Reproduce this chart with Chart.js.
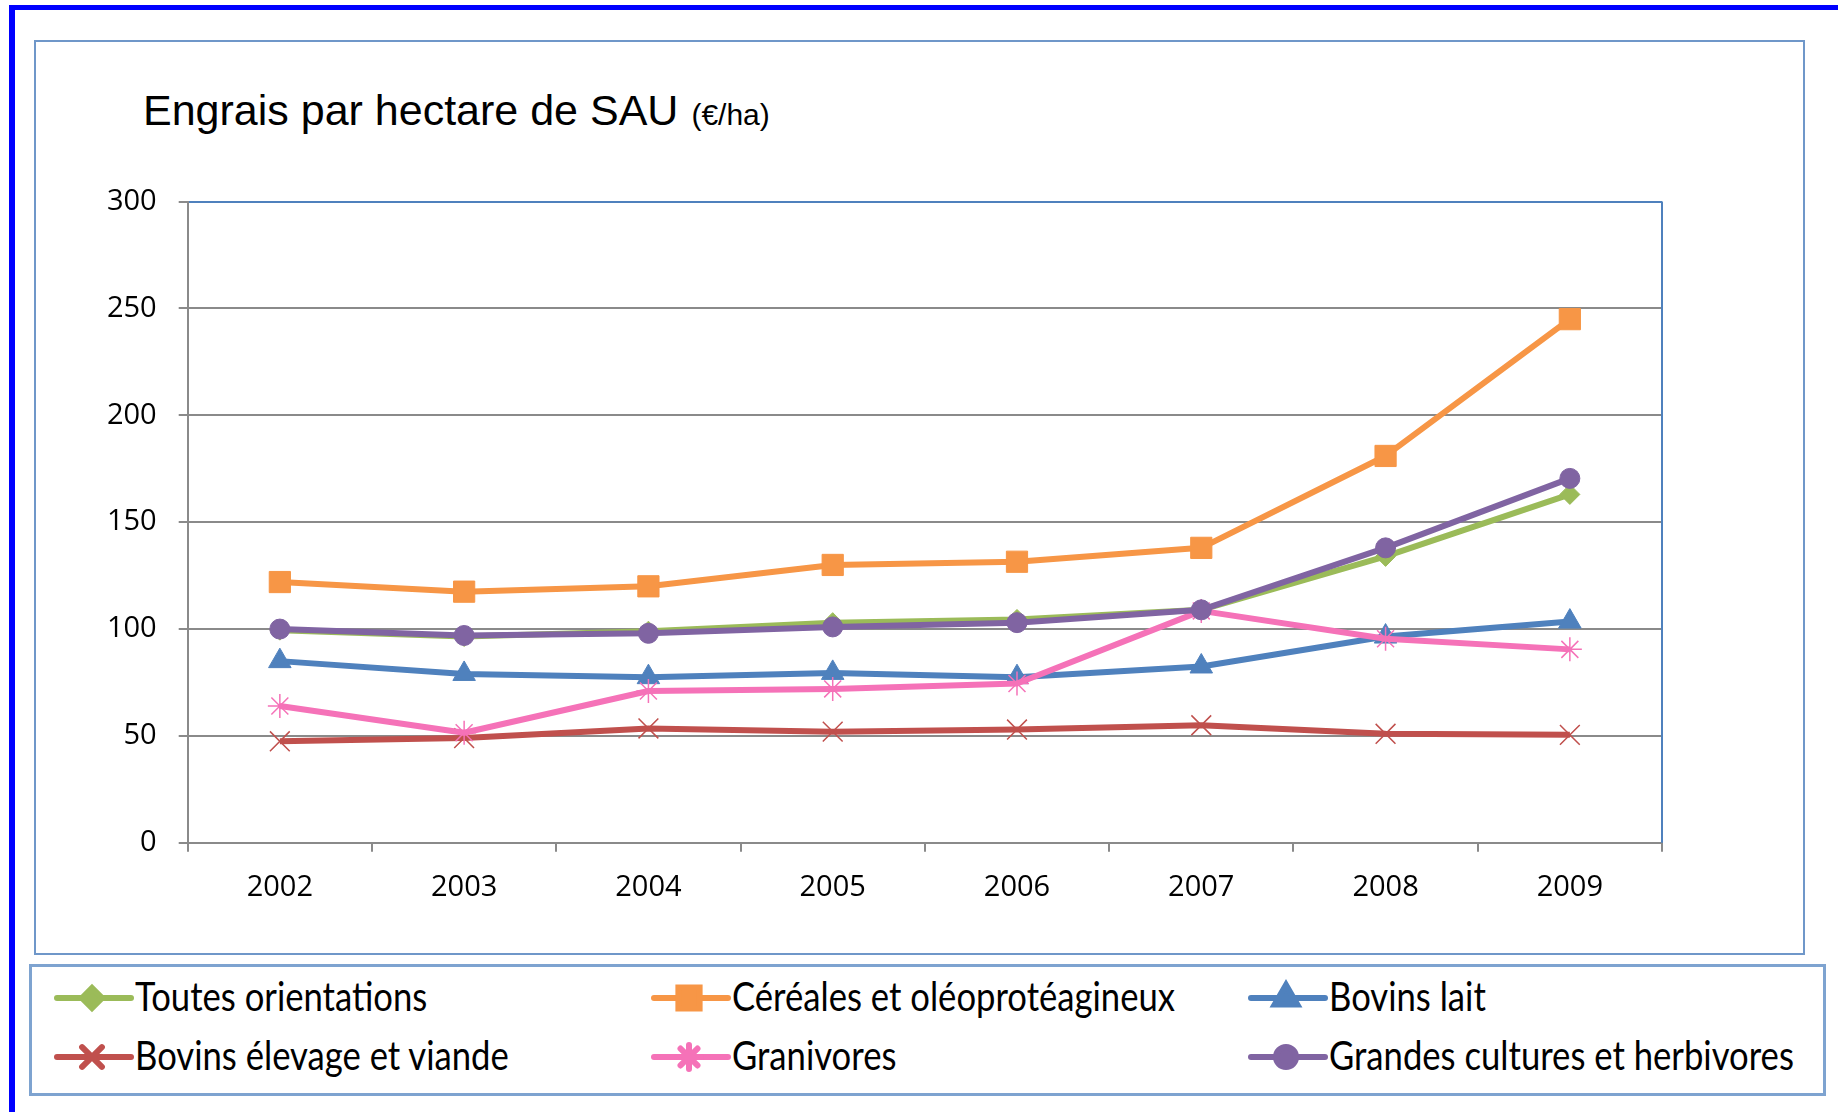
<!DOCTYPE html>
<html>
<head>
<meta charset="utf-8">
<script src="https://cdn.jsdelivr.net/npm/chart.js@4.4.1/dist/chart.umd.min.js"></script>
<style>
  body {
    margin: 0;
    background: #fff;
    width: 1838px;
    height: 1112px;
    overflow: hidden;
    position: relative;
    font-family: "Liberation Sans", Arial, sans-serif;
  }
  .frame {
    position: absolute;
    left: 9px; top: 5px;
    width: 1900px; height: 1200px;
    border-left: 6px solid #0000ff;
    border-top: 5px solid #0000ff;
  }
  .chart-box {
    position: absolute;
    left: 34px; top: 40px;
    width: 1767px; height: 911px;
    border: 2px solid #6f97c9;
  }
  .chart-wrap {
    position: absolute;
    left: 35px; top: 41px;
    width: 1768px; height: 912px;
  }
  .title {
    position: absolute;
    left: 143px; top: 89px;
    font-size: 43px;
    line-height: 1;
    color: #000;
    white-space: nowrap;
  }
  .title small {
    font-size: 30px;
    margin-left: 13px;
  }
  .legend-box {
    position: absolute;
    left: 29px; top: 964px;
    width: 1791px; height: 126px;
    border: 3px solid #7ea3d0;
  }
  .legend-item canvas {
    position: absolute;
  }
  .legend-item span {
    position: absolute;
    font-family: Lato, "Liberation Sans", sans-serif;
    font-size: 40px;
    line-height: 1;
    color: #000;
    white-space: nowrap;
    transform-origin: 0 0;
  }
</style>
</head>
<body>
<div class="frame"></div>
<div class="chart-box"></div>
<div class="title">Engrais par hectare de SAU<small>(€/ha)</small></div>
<div class="chart-wrap"><canvas id="chart" width="1768" height="912"></canvas></div>
<div class="legend-box"></div>
<div id="legend"></div>

<script>
'use strict';

const years = ['2002', '2003', '2004', '2005', '2006', '2007', '2008', '2009'];

const toutesOrientations = [99.5, 96.5, 99, 103, 104.5, 109, 134, 163];
const cerealesOleo = [122, 117.5, 120, 130, 131.5, 138, 181, 245];
const bovinsLait = [85, 79, 77.5, 79.5, 77.5, 82.5, 96.5, 103.5];
const bovinsViande = [47.5, 49, 53.5, 52, 53, 55, 51, 50.5];
const granivores = [64, 51.5, 71, 72, 74.5, 108.5, 95.5, 90.5];
const grandesCultures = [100, 97, 98, 101, 103, 109, 138, 170.5];

const seriesNames = [
  'Toutes orientations',
  'Céréales et oléoprotéagineux',
  'Bovins lait',
  'Bovins élevage et viande',
  'Granivores',
  'Grandes cultures et herbivores'
];
const seriesValues = [toutesOrientations, cerealesOleo, bovinsLait, bovinsViande, granivores, grandesCultures];

// excel-ish look for each series
const seriesStyles = [
  {color: '#9bbb59', pointStyle: 'rectRot', radius: 10, borderWidth: 1},
  {color: '#f79646', pointStyle: 'rect', radius: 15, borderWidth: 1},
  {color: '#4f81bd', pointStyle: 'triangle', radius: 13, borderWidth: 1},
  {color: '#c0504d', pointStyle: 'crossRot', radius: 14, borderWidth: 1.5},
  {color: '#f572b8', pointStyle: 'star', radius: 12, borderWidth: 1.5},
  {color: '#8064a2', pointStyle: 'circle', radius: 10, borderWidth: 1}
];

const gridGray = '#8a8a8a';
const plotBlue = '#4f81bd';

const datasets = seriesNames.map((name, i) => {
  const s = seriesStyles[i];
  return {
    label: name,
    data: seriesValues[i],
    borderColor: s.color,
    backgroundColor: s.color,
    borderWidth: 6,
    tension: 0,
    borderJoinStyle: 'round',
    pointStyle: s.pointStyle,
    pointRadius: s.radius,
    pointBorderWidth: s.borderWidth,
    pointBackgroundColor: s.color,
    pointBorderColor: s.color,
    order: seriesNames.length - i   // later series drawn on top, like excel
  };
});

// blue right edge of the plot area
const plotBorder = {
  id: 'plotBorder',
  beforeDatasetsDraw(chart) {
    const a = chart.chartArea;
    const ctx = chart.ctx;
    ctx.save();
    ctx.strokeStyle = plotBlue;
    ctx.lineWidth = 2;
    ctx.beginPath();
    ctx.moveTo(a.right, a.top);
    ctx.lineTo(a.right, a.bottom);
    ctx.stroke();
    ctx.restore();
  }
};

const ctx = document.getElementById('chart').getContext('2d');
const chart = new Chart(ctx, {
  type: 'line',
  data: {labels: years, datasets: datasets},
  options: {
    responsive: false,
    animation: false,
    events: [],
    layout: {padding: {left: 0, top: 160.6, right: 141, bottom: 0}},
    plugins: {
      legend: {display: false},
      title: {display: false},
      tooltip: {enabled: false}
    },
    scales: {
      x: {
        offset: true,
        grid: {
          offset: true,
          drawOnChartArea: false,
          drawTicks: true,
          tickLength: 9,
          color: gridGray,
          lineWidth: 2
        },
        border: {color: gridGray, width: 2},
        ticks: {
          color: '#000',
          font: {family: 'Open Sans', size: 29},
          padding: 19,
          maxRotation: 0
        },
        afterFit: (scale) => { scale.height = 110.2; }
      },
      y: {
        min: 0,
        max: 300,
        ticks: {
          stepSize: 50,
          color: '#000',
          font: {family: 'Open Sans', size: 29},
          padding: 22
        },
        grid: {
          color: (c) => (c.tick && c.tick.value === 300) ? plotBlue : gridGray,
          tickColor: gridGray,
          lineWidth: 2,
          drawTicks: true,
          tickLength: 9
        },
        border: {color: gridGray, width: 2},
        afterFit: (scale) => { scale.width = 152.7; }
      }
    }
  },
  plugins: [plotBorder]
});

// legend, two rows of three, built from the chart's datasets
const legendCols = [54, 651, 1248];
const legendRows = [998, 1057];
const legendEl = document.getElementById('legend');
const spans = [];
chart.data.datasets.forEach((ds, i) => {
  const col = i % 3;
  const row = Math.floor(i / 3);
  const item = document.createElement('div');
  item.className = 'legend-item';

  const c = document.createElement('canvas');
  c.width = 80;
  c.height = 40;
  c.style.left = legendCols[col] + 'px';
  c.style.top = (legendRows[row] - 20) + 'px';
  const g = c.getContext('2d');
  g.strokeStyle = ds.borderColor;
  g.lineWidth = 6;
  g.lineCap = 'round';
  g.beginPath();
  g.moveTo(3, 20);
  g.lineTo(77, 20);
  g.stroke();
  g.fillStyle = ds.pointBackgroundColor;
  g.strokeStyle = ds.pointBorderColor;
  Chart.helpers.drawPoint(g, {
    pointStyle: ds.pointStyle,
    radius: ds.pointRadius,
    borderWidth: ds.pointBorderWidth,
    rotation: 0
  }, 38, 20);

  const span = document.createElement('span');
  span.textContent = ds.label;
  span.style.left = (legendCols[col] + 81) + 'px';
  span.style.top = (legendRows[row] - 22) + 'px';

  item.appendChild(c);
  item.appendChild(span);
  legendEl.appendChild(item);
  spans.push(span);
});

// the legend text in the original is condensed; squeeze it to the same width
const longest = spans[5];
const squeeze = 465 / longest.getBoundingClientRect().width;
spans.forEach((s) => { s.style.transform = 'scaleX(' + squeeze.toFixed(3) + ')'; });
</script>
</body>
</html>
